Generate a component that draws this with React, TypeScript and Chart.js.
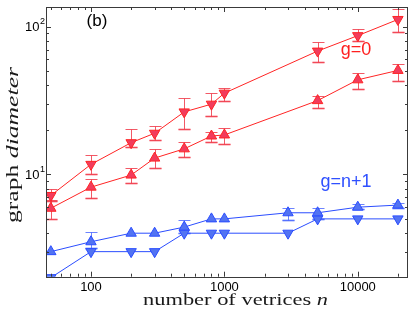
import React, { useEffect, useRef } from 'react';
import { Chart, registerables } from 'chart.js';
Chart.register(...registerables);

// ---- data ----
const nRed = [50, 100, 200, 300, 500, 800, 1000, 5000, 10000, 20000];
const g0Down = [7.2, 11.7, 16.4, 19, 26.5, 29.9, 35.5, 68.4, 87, 112];
const g0DownLo = [6.6, 10, 15.3, 17.1, 20.2, 25, 31.5, 57.3, 80.3, 92.3];
const g0DownHi = [8.0, 13.5, 20.2, 21.4, 33, 35.5, 38.6, 78.9, 96.4, 132.6];
const g0Up = [5.9, 8.2, 9.9, 12.9, 14.9, 18.2, 18.5, 31.6, 43.7, 50.6];
const g0UpLo = [5.0, 6.9, 8.7, 11, 13.1, 16.7, 16.1, 28.2, 37.7, 42.9];
const g0UpHi = [6.7, 9.3, 11, 14.9, 16.5, 19.5, 20.5, 33.8, 48.6, 56];

const nBlue = [50, 100, 200, 300, 500, 800, 1000, 3000, 5000, 10000, 20000];
const gnUp = [3.0, 3.5, 4, 4, 4.4, 5, 5, 5.5, 5.5, 6, 6.2];
const gnUpLo = [3.0, 3.2, 4, 4, 4.0, 5, 5, 4.9, 5.0, 5.8, 5.9];
const gnUpHi = [3.0, 4.05, 4, 4, 4.9, 5, 5, 5.9, 5.9, 6.3, 6.4];
const gnDown = [2.0, 3, 3, 3, 4, 4, 4, 4, 5, 5, 5];

const xTickValues = [100, 1000, 10000];
const xTickLabels = ['100', '1000', '10000'];
const yTickValues = [10, 100];
const yTickExps = ['1', '2'];

const xMin = 46;
const xMax = 23800;
const yMin = 2.03;
const yMax = 136;

const RED_LINE = '#ff2424';
const RED_FILL = '#f23c5c';
const RED_ERR = 'rgba(240,60,75,0.85)';
const RED_ERR2 = 'rgba(250,140,150,0.9)';
const BLUE_LINE = '#2b4dff';
const BLUE_FILL = '#5273f2';
const BLUE_ERR = 'rgba(70,100,255,0.8)';
const BLUE_ERR2 = 'rgba(140,160,255,0.9)';

function pts(xs: number[], ys: number[]) {
  return xs.map((x, i) => ({ x, y: ys[i] }));
}

// draws mixed-style text, stretched horizontally to a target width
function drawMixed(ctx: CanvasRenderingContext2D, parts: [string, string][], x: number, y: number, targetW: number, size: number, family: string) {
  let w = 0;
  for (const [t, st] of parts) {
    ctx.font = `${st} ${size}px ${family}`;
    w += ctx.measureText(t).width;
  }
  const sx = targetW / w;
  ctx.save();
  ctx.translate(x, y);
  ctx.scale(sx, 1);
  let cx = 0;
  ctx.textAlign = 'left';
  ctx.textBaseline = 'alphabetic';
  for (const [t, st] of parts) {
    ctx.font = `${st} ${size}px ${family}`;
    ctx.fillText(t, cx, 0);
    cx += ctx.measureText(t).width;
  }
  ctx.restore();
}

const decoPlugin = {
  id: 'deco',
  beforeDatasetsDraw(chart: any) {
    const { ctx, chartArea, scales } = chart;
    const xs = scales.x;
    const ys = scales.y;
    ctx.save();
    ctx.beginPath();
    ctx.rect(chartArea.left, chartArea.top, chartArea.right - chartArea.left, chartArea.bottom - chartArea.top);
    ctx.clip();
    chart.data.datasets.forEach((ds: any) => {
      if (!ds.errLo) return;
      ds.data.forEach((p: any, i: number) => {
        const lo = ds.errLo[i];
        const hi = ds.errHi[i];
        if (hi - lo <= 0) return;
        const px = Math.round(xs.getPixelForValue(p.x)) + 0.5;
        const pl = Math.round(ys.getPixelForValue(lo)) + 0.5;
        const ph = Math.round(ys.getPixelForValue(hi)) + 0.5;
        ctx.strokeStyle = ds.errColor2;
        ctx.lineWidth = 2;
        ctx.beginPath();
        ctx.moveTo(px - 6, pl);
        ctx.lineTo(px + 6, pl);
        ctx.stroke();
        ctx.strokeStyle = ds.errColor;
        ctx.lineWidth = 1;
        ctx.beginPath();
        ctx.moveTo(px, pl);
        ctx.lineTo(px, ph);
        ctx.moveTo(px - 6, pl);
        ctx.lineTo(px + 6, pl);
        ctx.moveTo(px - 6, ph);
        ctx.lineTo(px + 6, ph);
        ctx.stroke();
      });
    });
    ctx.restore();
  },
  afterDraw(chart: any) {
    const { ctx, chartArea, scales } = chart;
    const xs = scales.x;
    const ys = scales.y;
    const { left, right, top, bottom } = chartArea;
    ctx.save();
    ctx.strokeStyle = '#3a3a3a';
    ctx.lineWidth = 1;
    ctx.strokeRect(Math.round(left) + 0.5, Math.round(top) + 0.5, Math.round(right - left) - 1, Math.round(bottom - top));
    ctx.beginPath();
    for (let d = 1; d <= 4; d++) {
      for (let k = 1; k <= 9; k++) {
        const v = k * Math.pow(10, d);
        if (v < xMin || v > xMax) continue;
        const px = Math.round(xs.getPixelForValue(v)) + 0.5;
        const len = k === 1 ? 5 : 3;
        ctx.moveTo(px, bottom);
        ctx.lineTo(px, bottom - len);
        ctx.moveTo(px, top);
        ctx.lineTo(px, top + len);
      }
    }
    for (let d = 0; d <= 2; d++) {
      for (let k = 1; k <= 9; k++) {
        const v = k * Math.pow(10, d);
        if (v < yMin || v > yMax) continue;
        const py = Math.round(ys.getPixelForValue(v)) + 0.5;
        const len = k === 1 ? 5 : 3;
        ctx.moveTo(left, py);
        ctx.lineTo(left + len, py);
        ctx.moveTo(right, py);
        ctx.lineTo(right - len, py);
      }
    }
    ctx.stroke();
    ctx.fillStyle = '#000';
    ctx.font = '13px "Liberation Sans"';
    ctx.textAlign = 'center';
    ctx.textBaseline = 'middle';
    xTickValues.forEach((v, i) => {
      ctx.fillText(xTickLabels[i], xs.getPixelForValue(v), bottom + 11);
    });
    yTickValues.forEach((v, i) => {
      const py = ys.getPixelForValue(v);
      ctx.font = '13px "Liberation Sans"';
      ctx.textAlign = 'right';
      ctx.textBaseline = 'middle';
      ctx.fillText('10', 39.5, py + 1);
      ctx.font = '9px "Liberation Sans"';
      ctx.textAlign = 'left';
      ctx.fillText(yTickExps[i], 40, py - 5);
    });
    ctx.fillStyle = '#1a1a1a';
    drawMixed(ctx, [['number of vetrices ', 'normal'], ['n', 'italic']], 143, 305, 185, 17, '"Liberation Serif"');
    ctx.save();
    ctx.translate(18, 223);
    ctx.rotate(-Math.PI / 2);
    drawMixed(ctx, [['graph ', 'normal'], ['diameter', 'italic']], 0, 0, 156, 17, '"Liberation Serif"');
    ctx.restore();
    ctx.textAlign = 'center';
    ctx.textBaseline = 'middle';
    ctx.font = '17px "Liberation Sans"';
    ctx.fillStyle = '#000';
    ctx.fillText('(b)', 97, 21);
    ctx.font = '18px "Liberation Sans"';
    ctx.fillStyle = '#ff2020';
    ctx.fillText('g=0', 356, 50);
    ctx.fillStyle = '#2f50ff';
    ctx.fillText('g=n+1', 346, 182);
    ctx.restore();
  },
};

export default function App() {
  const ref = useRef<HTMLCanvasElement | null>(null);
  useEffect(() => {
    if (!ref.current) return;
    const common = {
      showLine: true,
      borderWidth: 1,
      pointRadius: 6,
      pointHoverRadius: 6,
      pointBorderWidth: 1,
      pointStyle: 'triangle',
      tension: 0,
    };
    const chart = new Chart(ref.current, {
      type: 'line',
      data: {
        datasets: [
          {
            ...common,
            data: pts(nRed, g0Down),
            errLo: g0DownLo,
            errHi: g0DownHi,
            errColor: RED_ERR,
            errColor2: RED_ERR2,
            borderColor: RED_LINE,
            backgroundColor: RED_FILL,
            pointBackgroundColor: RED_FILL,
            pointBorderColor: RED_LINE,
            pointRotation: 180,
          } as any,
          {
            ...common,
            data: pts(nRed, g0Up),
            errLo: g0UpLo,
            errHi: g0UpHi,
            errColor: RED_ERR,
            errColor2: RED_ERR2,
            borderColor: RED_LINE,
            backgroundColor: RED_FILL,
            pointBackgroundColor: RED_FILL,
            pointBorderColor: RED_LINE,
          } as any,
          {
            ...common,
            data: pts(nBlue, gnUp),
            errLo: gnUpLo,
            errHi: gnUpHi,
            errColor: BLUE_ERR,
            errColor2: BLUE_ERR2,
            borderColor: BLUE_LINE,
            backgroundColor: BLUE_FILL,
            pointBackgroundColor: BLUE_FILL,
            pointBorderColor: BLUE_LINE,
          } as any,
          {
            ...common,
            data: pts(nBlue, gnDown),
            borderColor: BLUE_LINE,
            backgroundColor: BLUE_FILL,
            pointBackgroundColor: BLUE_FILL,
            pointBorderColor: BLUE_LINE,
            pointRotation: 180,
          } as any,
        ],
      },
      options: {
        animation: false,
        responsive: false,
        maintainAspectRatio: false,
        layout: { padding: { left: 46, top: 4, right: 3.3, bottom: 35.3 } },
        plugins: { legend: { display: false }, tooltip: { enabled: false } },
        events: [],
        scales: {
          x: { type: 'logarithmic', min: xMin, max: xMax, display: false },
          y: { type: 'logarithmic', min: yMin, max: yMax, display: false },
        },
      },
      plugins: [decoPlugin],
    });
    return () => chart.destroy();
  }, []);
  return (
    <div style={{ position: 'absolute', left: 0, top: 0, width: 415, height: 312, background: '#fff' }}>
      <canvas ref={ref} width={415} height={312} style={{ width: 415, height: 312, display: 'block' }} />
    </div>
  );
}
